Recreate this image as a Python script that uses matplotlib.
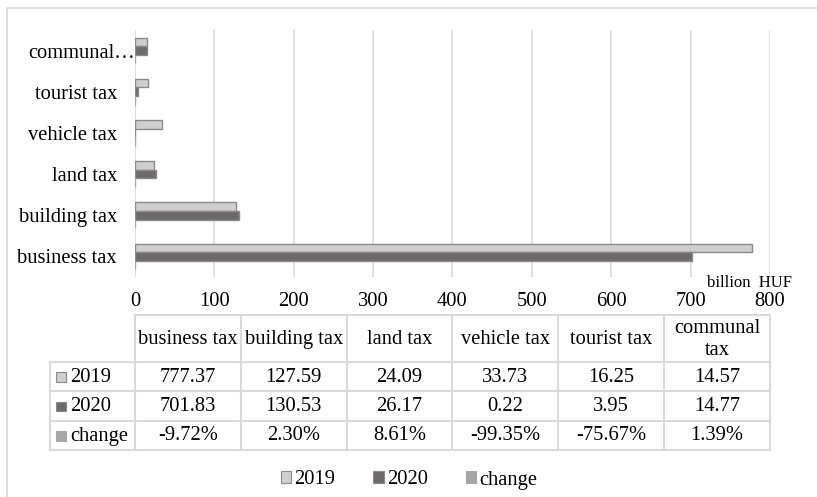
import matplotlib
matplotlib.use("Agg")
import matplotlib.pyplot as plt
from matplotlib.patches import Rectangle, Patch
from matplotlib.lines import Line2D
from matplotlib.transforms import ScaledTranslation

plt.rcParams['font.family'] = ['Liberation Serif', 'DejaVu Serif']

categories = ["business tax", "building tax", "land tax", "vehicle tax", "tourist tax", "communal tax"]
tick_labels = ["business tax", "building tax", "land tax", "vehicle tax", "tourist tax", "communal…"]
header_labels = ["business tax", "building tax", "land tax", "vehicle tax", "tourist tax", "communal\ntax"]
series_names = ["2019", "2020", "change"]
v2019 = [777.37, 127.59, 24.09, 33.73, 16.25, 14.57]
v2020 = [701.83, 130.53, 26.17, 0.22, 3.95, 14.77]
change_pct = [-9.72, 2.30, 8.61, -99.35, -75.67, 1.39]
x_ticks = [0, 100, 200, 300, 400, 500, 600, 700, 800]

fill_colors = ["#D0CECE", "#6E6A6A", "#A6A6A6"]
edge_colors = ["#8A8A8A", "#8A8A8A", "#A6A6A6"]
grid_color = "#D9D9D9"

W, H = 817, 497
fig = plt.figure(figsize=(W / 100, H / 100), dpi=100)

# outer chart border
fig.patches.append(Rectangle((7 / W, -0.05), 1.2, 1 - 8 / H + 0.05, transform=fig.transFigure,
                             fill=False, edgecolor=grid_color, linewidth=1.2))

ax_l, ax_r, ax_t, ax_b = 135, 770, 30, 277
ax = fig.add_axes([ax_l / W, 1 - ax_b / H, (ax_r - ax_l) / W, (ax_b - ax_t) / H])

fs = 14.8
n = len(categories)
bh = 0.207
ypos = list(range(n))
series_vals = [v2019, v2020, [c / 100 for c in change_pct]]
offsets = [bh, 0, -bh]
for vals, off, fc, ec in zip(series_vals, offsets, fill_colors, edge_colors):
    ax.barh([y + off for y in ypos], vals, height=bh, color=fc, edgecolor=ec, linewidth=1.0, zorder=3)

ax.set_xlim(0, 800)
ax.set_ylim(-0.5, n - 0.5)
ax.set_xticks(x_ticks)
ax.set_xticklabels([str(t) for t in x_ticks])
ax.set_yticks(ypos)
ax.set_yticklabels(tick_labels)
ax.tick_params(axis='both', length=0, labelsize=fs, colors="#000000")
ax.tick_params(axis='x', pad=11)
ax.tick_params(axis='y', pad=13)
ax.grid(axis='x', color=grid_color, linewidth=1.2, zorder=0)
ax.set_axisbelow(True)
for s in ax.spines.values():
    s.set_visible(False)

# truncated label overflows to the right like Excel
lbl = ax.get_yticklabels()[-1]
lbl.set_transform(lbl.get_transform() + ScaledTranslation(18 / 100, 0, fig.dpi_scale_trans))

# ---------- overlay in pixel coordinates ----------
ov = fig.add_axes([0, 0, 1, 1], facecolor='none')
ov.set_xlim(0, W)
ov.set_ylim(H, 0)
ov.axis('off')

ov.text(750, 283, "billion  HUF", fontsize=12, ha='center', va='center')

# ---------- data table ----------
col_w = (ax_r - ax_l) / n
col_x = [ax_l + i * col_w for i in range(n + 1)]
label_left = 50
row_y = [315, 362, 391, 421, 450]
lc = grid_color
lw = 1.5

ov.add_line(Line2D([ax_l, ax_r], [row_y[0]] * 2, color=lc, lw=lw))
for yy in row_y[1:]:
    ov.add_line(Line2D([label_left, ax_r], [yy] * 2, color=lc, lw=lw))
ov.add_line(Line2D([label_left, label_left], [row_y[1], row_y[-1]], color=lc, lw=lw))
for xx in col_x:
    ov.add_line(Line2D([xx, xx], [row_y[0], row_y[-1]], color=lc, lw=lw))

for i, h in enumerate(header_labels):
    ov.text((col_x[i] + col_x[i + 1]) / 2, (row_y[0] + row_y[1]) / 2 + 1, h, ha='center', va='center',
            fontsize=fs, linespacing=1.25)

rows = [[f"{v:.2f}" for v in v2019], [f"{v:.2f}" for v in v2020], [f"{v:.2f}%" for v in change_pct]]
for r, (name, vals) in enumerate(zip(series_names, rows)):
    yc = (row_y[r + 1] + row_y[r + 2]) / 2
    ov.add_patch(Rectangle((56.5, yc - 4.5), 9.5, 9.5, facecolor=fill_colors[r], edgecolor=edge_colors[r], lw=0.8))
    ov.text(70, yc + 0.5, name, ha='left', va='center', fontsize=fs)
    for i, t in enumerate(vals):
        ov.text((col_x[i] + col_x[i + 1]) / 2, yc + 0.5, t, ha='center', va='center', fontsize=fs)

# ---------- legend ----------
handles = [Patch(facecolor=fc, edgecolor=ec, linewidth=0.8) for fc, ec in zip(fill_colors, edge_colors)]
fig.legend(handles, series_names, loc='center', bbox_to_anchor=(409 / W, 1 - 480 / H), ncol=3,
           frameon=False, fontsize=fs, handlelength=0.5, handleheight=0.5, handletextpad=0.15,
           columnspacing=1.85)

fig.savefig("out.png", dpi=100)
